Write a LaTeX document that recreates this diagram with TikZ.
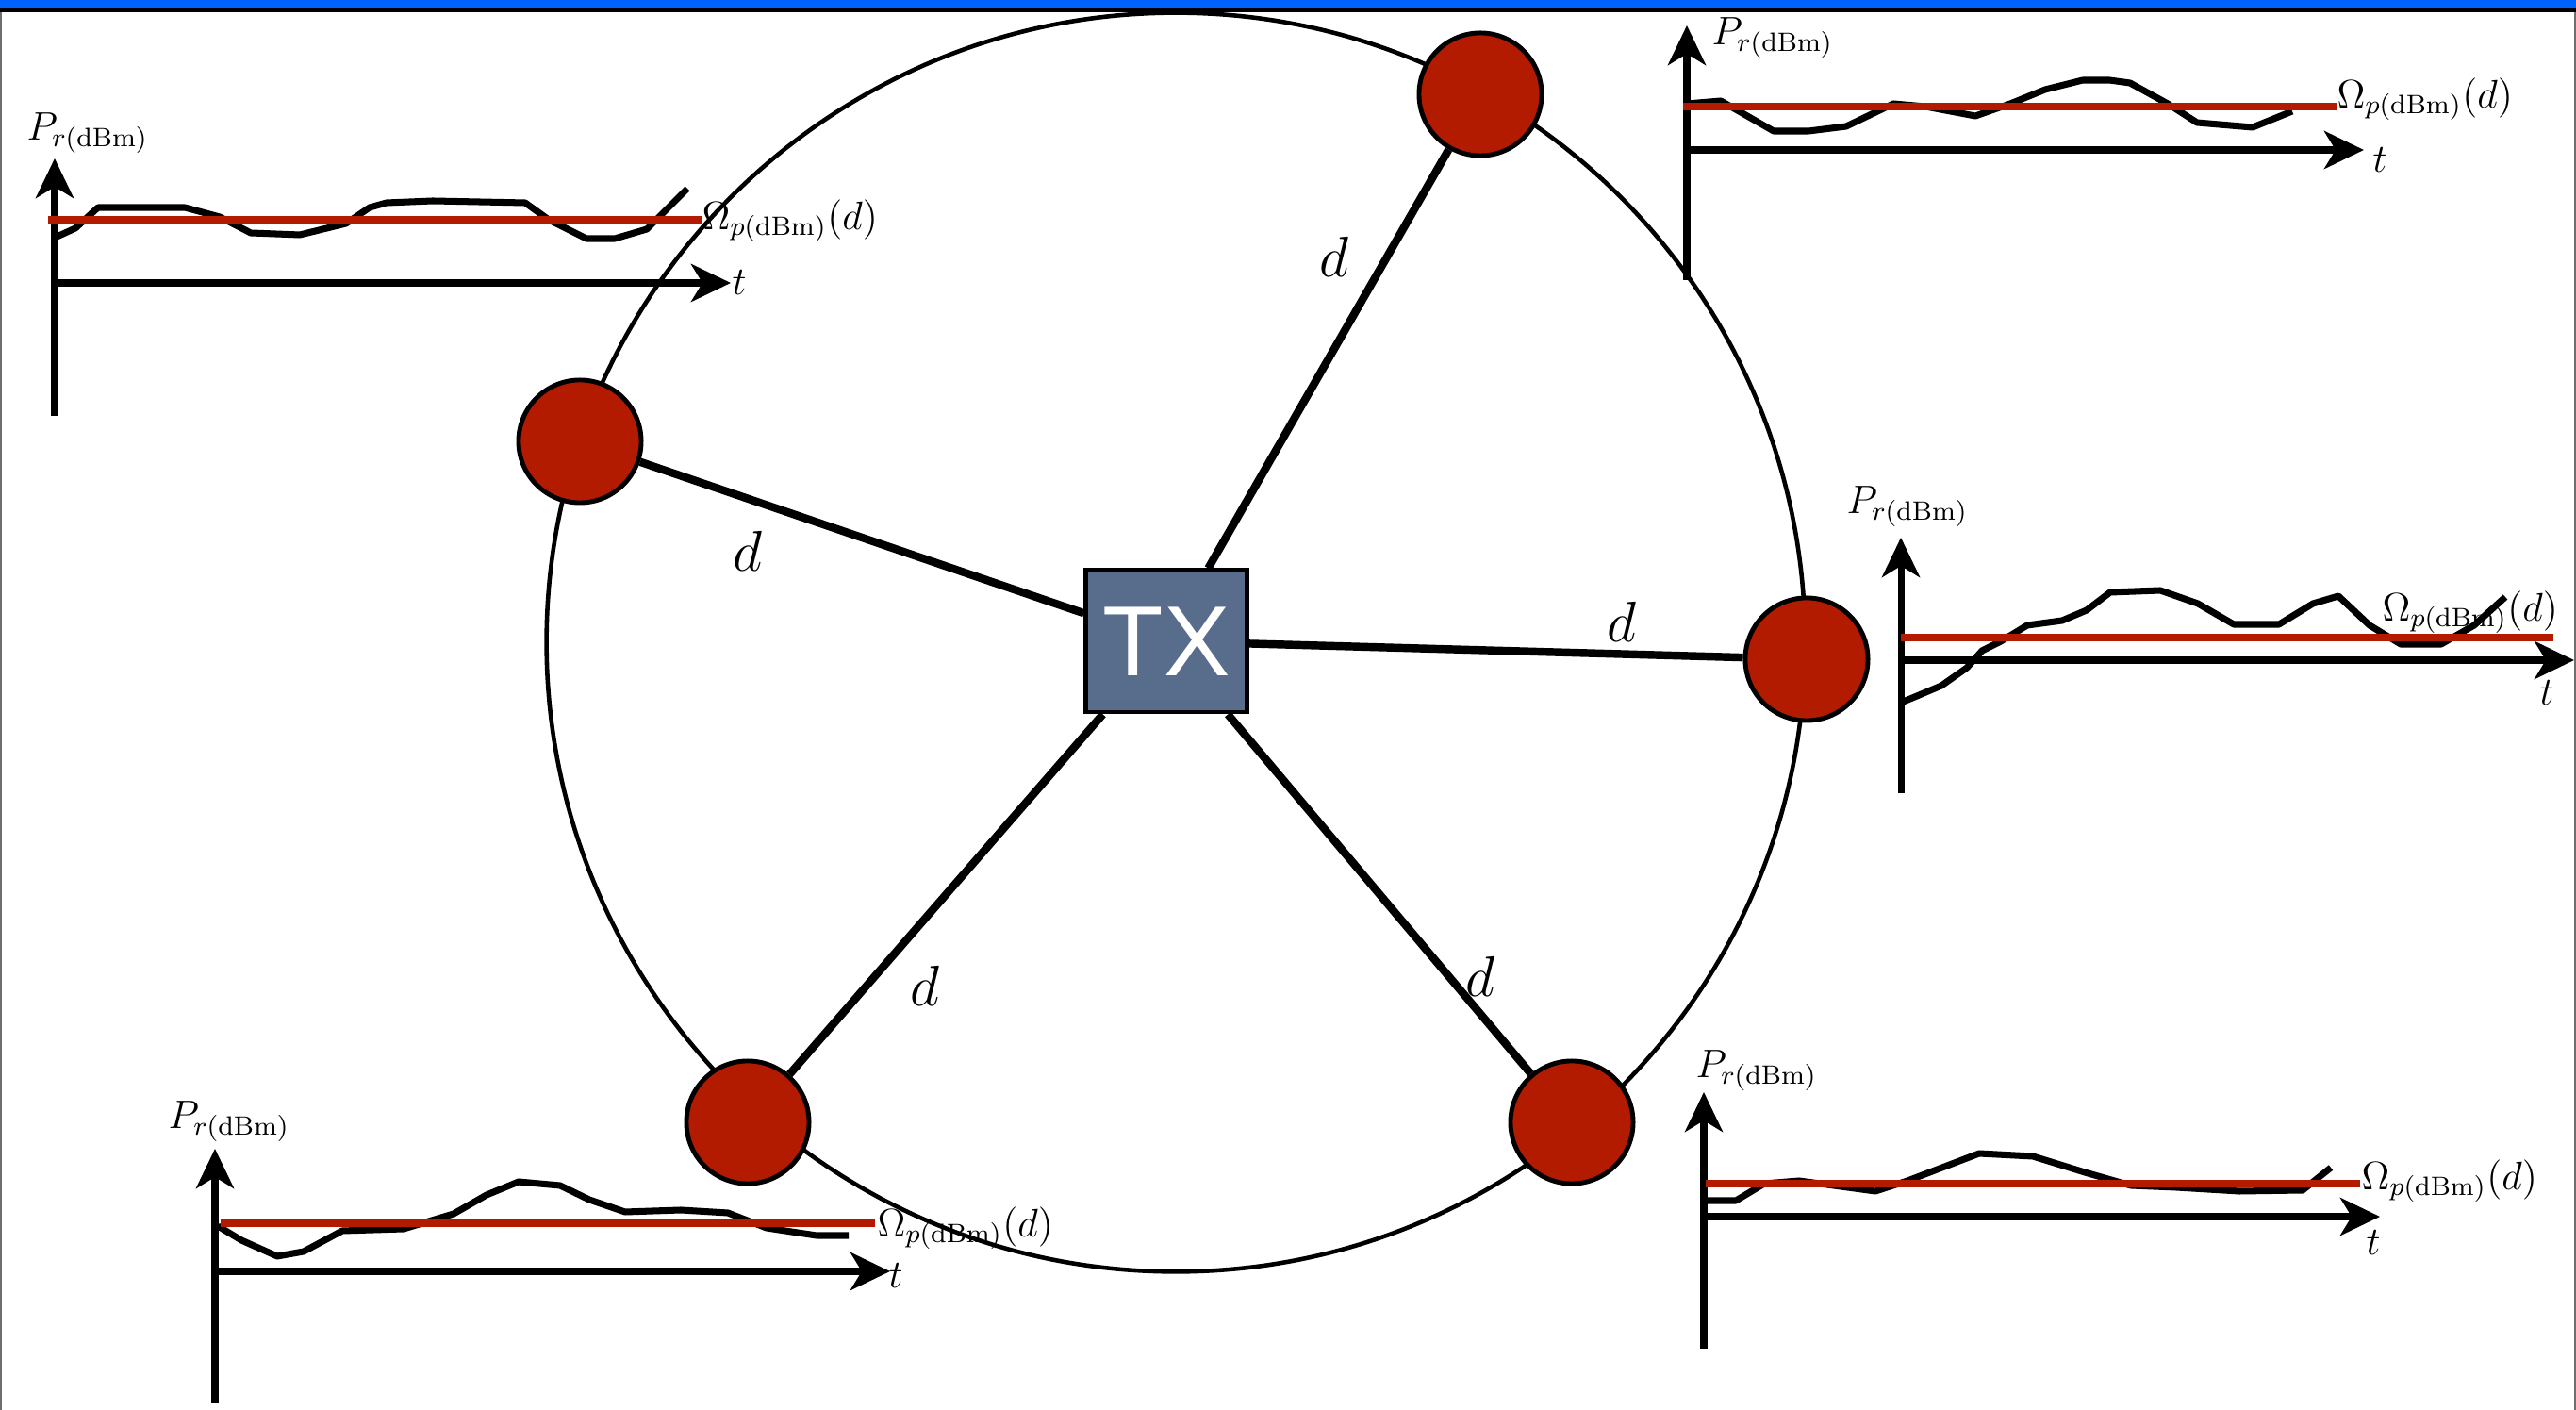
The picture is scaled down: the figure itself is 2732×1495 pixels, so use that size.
\documentclass[tikz,border=0pt]{standalone}
\usepackage{amsmath}
\usepackage{fontspec}
\newfontfamily\txfont{Liberation Sans}
\usepackage{tikz}
\usetikzlibrary{arrows.meta}
\definecolor{radio}{RGB}{178,27,0}
\definecolor{slate}{RGB}{88,108,140}
\definecolor{barblue}{RGB}{0,98,255}
\definecolor{edgegray}{RGB}{110,110,110}
\tikzset{
  ring/.style={line width=1.3pt,black},
  spoke/.style={line width=2.4pt,black},
  rx/.style={circle,draw=black,line width=1.4pt,fill=radio,minimum size=1.3cm,inner sep=0pt},
  txbox/.style={draw=black,line width=1.4pt,fill=slate,minimum width=1.7cm,minimum height=1.5cm,
    text=white,font=\txfont\fontsize{30}{34}\selectfont},
  dist/.style={font=\fontsize{18}{22}\selectfont},
  axis/.style={line width=2pt,-{Stealth[length=4.2mm,width=4mm,inset=1.2mm]}},
  signal/.style={line width=2pt,line join=round},
  mean/.style={line width=2pt,radio},
  lab/.style={font=\fontsize{12}{14}\selectfont,inner sep=0pt,anchor=west}
}

\begin{document}
\begin{tikzpicture}[x=0.01cm,y=-0.01cm]
  \useasboundingbox (0,0) rectangle (2732,1495);
  \fill[white] (0,0) rectangle (2732,1495);
  % frame
  \fill[barblue] (0,0) rectangle (2732,8);
  \fill[black] (0,8) rectangle (2732,13);
  \draw[edgegray,line width=0.6pt] (1,13) -- (1,1495) (2731,13) -- (2731,1495);

  % cell boundary
  \draw[ring] (1247,681) circle[radius=6.67cm];

  % transmitter and receivers
  \node[txbox] (tx) at (1237,680) {TX};
  \node[rx] (n1) at (1570,100) {};
  \node[rx] (n2) at (615,468) {};
  \node[rx] (n3) at (1916,699) {};
  \node[rx] (n4) at (793,1190) {};
  \node[rx] (n5) at (1667,1190) {};
  \foreach \n in {n1,n2,n3,n4,n5}
    \draw[spoke] (tx) -- (\n);
  \node[dist] (d1) at (1415,272) {$d$};
  \node[dist] (d2) at (793,584) {$d$};
  \node[dist] (d3) at (1720,659) {$d$};
  \node[dist] (d4) at (981,1045) {$d$};
  \node[dist] (d5) at (1570,1035) {$d$};

  % plot top left
  \draw[axis] (58,441) -- (58,168);
  \draw[axis] (58,300) -- (775,300);
  \draw[signal] (58,252) -- (80,242) -- (104,220) -- (196,220) -- (233,230) -- (266,247)
    -- (318,249) -- (367,237) -- (392,220) -- (410,215) -- (459,213) -- (557,215)
    -- (582,233) -- (622,253) -- (652,253) -- (686,243) -- (729,200);
  \draw[mean] (51,233) -- (744,233);
  \node[lab] (p1) at (28,141) {$P_{r(\mathrm{dBm})}$};
  \node[lab] (om1) at (744,234) {$\Omega_{p(\mathrm{dBm})}(d)$};
  \node[lab] (t1) at (776,300) {$t$};

  % plot top right
  \draw[axis] (1789,297) -- (1789,27);
  \draw[axis] (1789,159) -- (2507,159);
  \draw[signal] (1789,110) -- (1825,107) -- (1881,139) -- (1918,139) -- (1958,134) -- (2008,110)
    -- (2042,113) -- (2095,123) -- (2132,110) -- (2169,95) -- (2209,85) -- (2237,85)
    -- (2259,88) -- (2299,110) -- (2330,130) -- (2389,135) -- (2431,118);
  \draw[mean] (1785,113) -- (2478,113);
  \node[lab] (p2) at (1815,40) {$P_{r(\mathrm{dBm})}$};
  \node[lab] (om2) at (2478,105) {$\Omega_{p(\mathrm{dBm})}(d)$};
  \node[lab] (t2) at (2516,170) {$t$};

  % plot right
  \draw[axis] (2016,841) -- (2016,570);
  \draw[axis] (2016,700) -- (2730,700);
  \draw[signal] (2016,745) -- (2033,738) -- (2059,727) -- (2086,708) -- (2102,690) -- (2122,680)
    -- (2150,663) -- (2187,658) -- (2213,647) -- (2238,628) -- (2291,626) -- (2331,640)
    -- (2369,662) -- (2417,662) -- (2453,640) -- (2480,632) -- (2513,663) -- (2546,683)
    -- (2589,683) -- (2624,663) -- (2657,633);
  \draw[mean] (2016,676) -- (2708,676);
  \node[lab] (p3) at (1958,537) {$P_{r(\mathrm{dBm})}$};
  \node[lab] (om3) at (2526,649) {$\Omega_{p(\mathrm{dBm})}(d)$};
  \node[lab] (t3) at (2693,735) {$t$};

  % plot bottom left
  \draw[axis] (228,1488) -- (228,1218);
  \draw[axis] (228,1348) -- (944,1348);
  \draw[signal] (231,1300) -- (256,1315) -- (294,1332) -- (322,1327) -- (363,1305) -- (428,1303)
    -- (481,1287) -- (516,1267) -- (550,1253) -- (594,1257) -- (625,1272) -- (663,1285)
    -- (722,1283) -- (772,1286) -- (813,1302) -- (866,1310) -- (900,1310);
  \draw[mean] (234,1297) -- (928,1297);
  \node[lab] (p4) at (178,1189) {$P_{r(\mathrm{dBm})}$};
  \node[lab] (om4) at (930,1302) {$\Omega_{p(\mathrm{dBm})}(d)$};
  \node[lab] (t4) at (942,1353) {$t$};

  % plot bottom right
  \draw[axis] (1807,1430) -- (1807,1158);
  \draw[axis] (1807,1290) -- (2524,1290);
  \draw[signal] (1807,1273) -- (1841,1273) -- (1871,1255) -- (1908,1252) -- (1989,1263)
    -- (2023,1252) -- (2099,1223) -- (2156,1226) -- (2211,1243) -- (2260,1257)
    -- (2308,1259) -- (2375,1263) -- (2442,1262) -- (2472,1238);
  \draw[mean] (1809,1255) -- (2503,1255);
  \node[lab] (p5) at (1798,1135) {$P_{r(\mathrm{dBm})}$};
  \node[lab] (om5) at (2504,1252) {$\Omega_{p(\mathrm{dBm})}(d)$};
  \node[lab] (t5) at (2509,1318) {$t$};
\end{tikzpicture}
\end{document}
